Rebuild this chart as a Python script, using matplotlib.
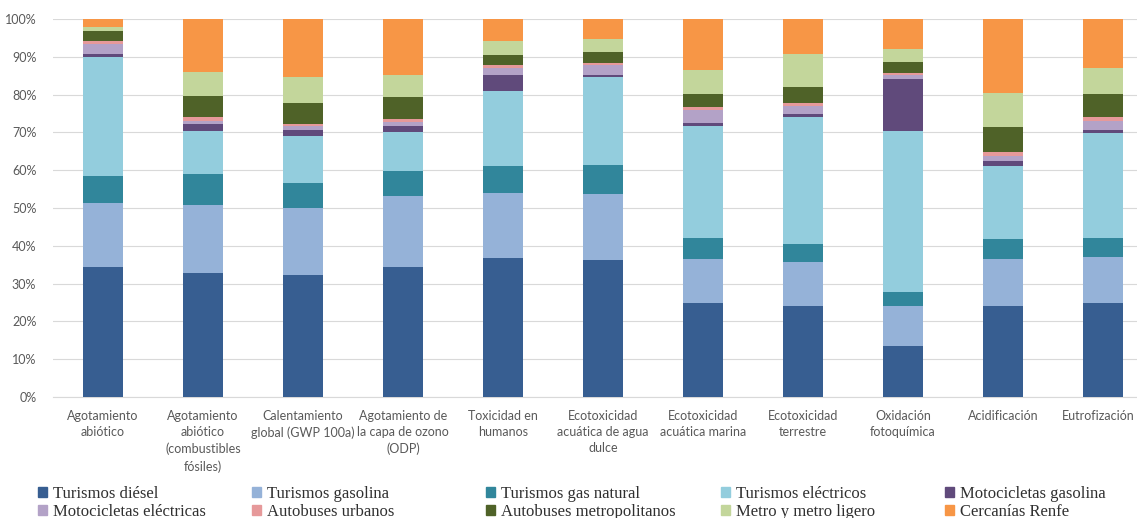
import numpy as np
import matplotlib
matplotlib.use("Agg")
import matplotlib.pyplot as plt
import matplotlib.transforms as mtransforms
from matplotlib.patches import Patch
from matplotlib.ticker import PercentFormatter

categories = [
    "Agotamiento\nabiótico",
    "Agotamiento\nabiótico\n(combustibles\nfósiles)",
    "Calentamiento\nglobal (GWP 100a)",
    "Agotamiento de\nla capa de ozono\n(ODP)",
    "Toxicidad en\nhumanos",
    "Ecotoxicidad\nacuática de agua\ndulce",
    "Ecotoxicidad\nacuática marina",
    "Ecotoxicidad\nterrestre",
    "Oxidación\nfotoquímica",
    "Acidificación",
    "Eutrofización",
]

series_names = [
    "Turismos diésel", "Turismos gasolina", "Turismos gas natural",
    "Turismos eléctricos", "Motocicletas gasolina", "Motocicletas eléctricas",
    "Autobuses urbanos", "Autobuses metropolitanos", "Metro y metro ligero",
    "Cercanías Renfe",
]

# share (%) of each mode per impact category
turismos_diesel = [34.5, 32.9, 32.2, 34.5, 36.9, 36.2, 24.8, 24.0, 13.4, 24.0, 24.8]
turismos_gasolina = [16.8, 17.9, 17.8, 18.8, 17.2, 17.5, 11.7, 11.6, 10.6, 12.6, 12.2]
turismos_gas_natural = [7.2, 8.2, 6.7, 6.6, 6.9, 7.8, 5.5, 4.9, 3.8, 5.3, 5.0]
turismos_electricos = [31.5, 11.5, 12.4, 10.1, 20.0, 23.2, 29.8, 33.5, 42.6, 19.3, 27.8]
motos_gasolina = [0.7, 1.7, 1.6, 1.8, 4.3, 0.6, 0.7, 0.8, 13.7, 1.2, 0.9]
motos_electricas = [2.6, 0.9, 0.9, 1.0, 1.7, 2.5, 3.4, 2.2, 1.1, 1.4, 2.4]
autobuses_urbanos = [0.9, 0.9, 0.7, 0.7, 0.8, 0.5, 0.9, 0.7, 0.5, 1.1, 1.1]
autobuses_metro = [2.7, 5.5, 5.4, 5.8, 2.7, 2.9, 3.3, 4.2, 2.9, 6.5, 5.9]
metro_ligero = [1.0, 6.4, 7.0, 6.0, 3.6, 3.4, 6.4, 8.8, 3.4, 9.1, 6.9]
cercanias = [2.1, 14.1, 15.3, 14.7, 5.9, 5.4, 13.5, 9.3, 8.0, 19.5, 13.0]

series = [turismos_diesel, turismos_gasolina, turismos_gas_natural, turismos_electricos,
          motos_gasolina, motos_electricas, autobuses_urbanos, autobuses_metro,
          metro_ligero, cercanias]

colors = ["#375e91", "#95b2d8", "#31869b", "#93cddd", "#604a7b",
          "#b3a2c7", "#e6999a", "#4f6228", "#c3d69b", "#f79646"]

fig = plt.figure(figsize=(11.37, 5.18), dpi=100)
ax = fig.add_axes([53 / 1137, 121 / 518, 1100 / 1137, 378 / 518])

x = np.arange(len(categories))
bottom = np.zeros(len(categories))
for vals, col, name in zip(series, colors, series_names):
    ax.bar(x, vals, 0.4, bottom=bottom, color=col, label=name, zorder=3)
    bottom += np.array(vals)

ax.set_xlim(-0.5, len(categories) - 0.5)
ax.set_ylim(0, 100)
ax.set_yticks(np.arange(0, 101, 10))
ax.yaxis.set_major_formatter(PercentFormatter(decimals=0))
ax.grid(axis="y", color="#d9d9d9", linewidth=0.8, zorder=0)
for s in ["top", "right", "left"]:
    ax.spines[s].set_visible(False)
ax.spines["bottom"].set_color("#d9d9d9")
ax.tick_params(axis="both", length=0, colors="#595959", labelsize=9)
ax.tick_params(axis="y", pad=12)
ax.set_xticks(x)
ax.set_xticklabels(categories, family="Lato", va="top", linespacing=1.45)
for lab in ax.get_yticklabels():
    lab.set_family("Lato")
ax.tick_params(axis="x", pad=9)

# last label sits at the right edge of the picture, nudge it in
last = ax.get_xticklabels()[-1]
last.set_transform(last.get_transform() +
                   mtransforms.ScaledTranslation(-5 / 100, 0, fig.dpi_scale_trans))

# legend laid out row-wise in 5 columns like the original
col_x = [38, 252, 486, 721, 945]
for c in range(5):
    hs = [Patch(color=colors[c]), Patch(color=colors[c + 5])]
    fig.legend(hs, [series_names[c], series_names[c + 5]],
               loc="upper left", bbox_to_anchor=(col_x[c] / 1137, 1 - 486 / 518),
               frameon=False, handlelength=0.55, handleheight=0.55, handletextpad=0.35,
               labelspacing=0.1, borderpad=0, borderaxespad=0,
               prop={"family": "Liberation Serif", "size": 12}, labelcolor="#303030")

fig.savefig("out.png", dpi=100)
